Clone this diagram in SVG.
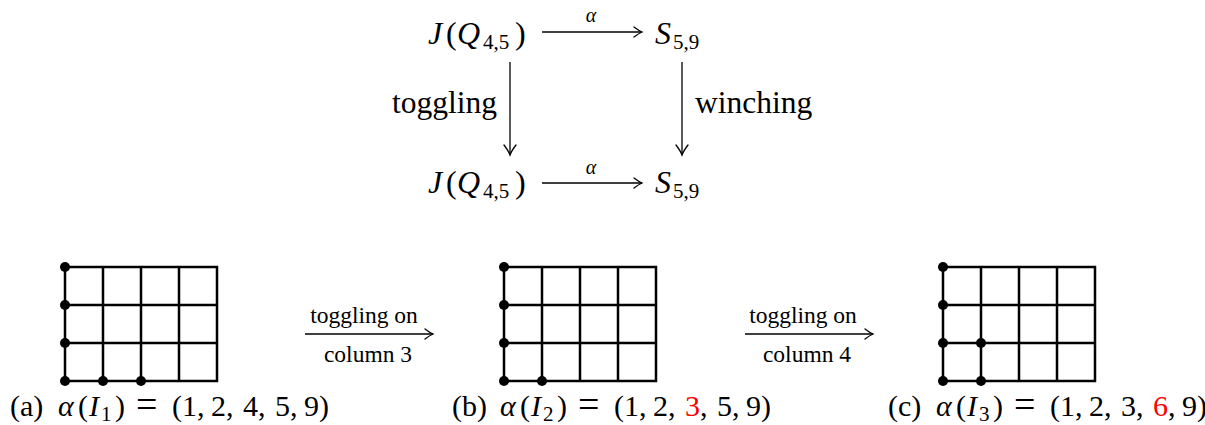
<svg xmlns="http://www.w3.org/2000/svg" width="1205" height="425" viewBox="0 0 1205 425">
<style>
text{font-family:"Liberation Serif","Times New Roman",serif;fill:#000}
.m{font-size:32px}
.it{font-style:italic}
.sub{font-size:21px}
.sm{font-size:20px;font-style:italic}
.lbl{font-size:31.5px}
.t{font-size:23.5px}
.cap{font-size:30px}
.capsub{font-size:21px}
.red{fill:#ff0000}
.conn line{stroke:#000;stroke-width:1.3;fill:none}
.gr{stroke:#000;stroke-width:2.5;fill:none;stroke-linecap:square}
.dot{fill:#000}
</style>
<defs>
<marker id="hk" markerUnits="userSpaceOnUse" viewBox="-10 -7 12 14" refX="0" refY="0" markerWidth="12" markerHeight="14" orient="auto" overflow="visible">
<path d="M-8,-5 Q-3,-1.2 0,0 Q-3,1.2 -8,5" fill="none" stroke="#000" stroke-width="1.3" stroke-linecap="round"/>
</marker>
<marker id="hkL" markerUnits="userSpaceOnUse" viewBox="-12 -8 14 16" refX="0" refY="0" markerWidth="14" markerHeight="16" orient="auto" overflow="visible">
<path d="M-10,-6 Q-4,-1.4 0,0 Q-4,1.4 -10,6" fill="none" stroke="#000" stroke-width="1.3" stroke-linecap="round"/>
</marker>
<path id="gridShape" d="M0,0H152V114H0Z M38,0V114 M76,0V114 M114,0V114 M0,38H152 M0,76H152"/>
</defs>

<g id="connectors" class="conn">
<line x1="542" y1="32" x2="642" y2="32" marker-end="url(#hk)"/>
<line x1="542" y1="183" x2="642" y2="183" marker-end="url(#hk)"/>
<line x1="510" y1="62" x2="510" y2="155" marker-end="url(#hkL)"/>
<line x1="682" y1="62" x2="682" y2="155" marker-end="url(#hkL)"/>
<line x1="305" y1="334" x2="433" y2="334" marker-end="url(#hk)"/>
<line x1="745" y1="334" x2="873" y2="334" marker-end="url(#hk)"/>
</g>

<g id="edge-labels">
<text class="sm" x="591" y="22" text-anchor="middle">α</text>
<text class="sm" x="591" y="174" text-anchor="middle">α</text>
<text class="lbl" x="392" y="113">toggling</text>
<text class="lbl" x="695" y="113">winching</text>
<text class="t" x="364" y="323" text-anchor="middle">toggling on</text>
<text class="t" x="368" y="362" text-anchor="middle">column 3</text>
<text class="t" x="803" y="323" text-anchor="middle">toggling on</text>
<text class="t" x="807" y="362" text-anchor="middle">column 4</text>
</g>

<g id="node-J-top">
<text class="m" y="44"><tspan x="428" class="it">J</tspan><tspan x="446">(</tspan><tspan x="457" class="it">Q</tspan><tspan x="483" dy="5" class="sub">4,5</tspan><tspan x="515" dy="-5">)</tspan></text>
</g>
<g id="node-S-top">
<text class="m" y="44"><tspan x="655" class="it">S</tspan><tspan x="673" dy="5" class="sub">5,9</tspan></text>
</g>
<g id="node-J-bottom">
<text class="m" y="193"><tspan x="428" class="it">J</tspan><tspan x="446">(</tspan><tspan x="457" class="it">Q</tspan><tspan x="483" dy="5" class="sub">4,5</tspan><tspan x="515" dy="-5">)</tspan></text>
</g>
<g id="node-S-bottom">
<text class="m" y="193"><tspan x="655" class="it">S</tspan><tspan x="673" dy="5" class="sub">5,9</tspan></text>
</g>

<g id="fig-a">
<use class="gr" href="#gridShape" x="65" y="267"/>
<circle class="dot" cx="65" cy="267" r="5"/>
<circle class="dot" cx="65" cy="305" r="5"/>
<circle class="dot" cx="65" cy="343" r="5"/>
<circle class="dot" cx="65" cy="381" r="5"/>
<circle class="dot" cx="103" cy="381" r="5"/>
<circle class="dot" cx="141" cy="381" r="5"/>
<text class="cap" y="416"><tspan x="10">(a)</tspan><tspan x="58" class="it">α</tspan><tspan x="78">(</tspan><tspan x="89" class="it">I</tspan><tspan x="101" dy="5" class="capsub">1</tspan><tspan x="115" dy="-5">)</tspan><tspan x="136" font-size="38" dy="1">=</tspan><tspan x="172" dy="-1">(1,</tspan><tspan x="211">2,</tspan><tspan x="243">4,</tspan><tspan x="275">5,</tspan><tspan x="304">9)</tspan></text>
</g>

<g id="fig-b">
<use class="gr" href="#gridShape" x="504" y="267"/>
<circle class="dot" cx="504" cy="267" r="5"/>
<circle class="dot" cx="504" cy="305" r="5"/>
<circle class="dot" cx="504" cy="343" r="5"/>
<circle class="dot" cx="504" cy="381" r="5"/>
<circle class="dot" cx="542" cy="381" r="5"/>
<text class="cap" y="416"><tspan x="452">(b)</tspan><tspan x="500" class="it">α</tspan><tspan x="520">(</tspan><tspan x="531" class="it">I</tspan><tspan x="543" dy="5" class="capsub">2</tspan><tspan x="557" dy="-5">)</tspan><tspan x="578" font-size="38" dy="1">=</tspan><tspan x="614" dy="-1">(1,</tspan><tspan x="653">2,</tspan><tspan x="685" class="red">3</tspan><tspan x="700">,</tspan><tspan x="717">5,</tspan><tspan x="746">9)</tspan></text>
</g>

<g id="fig-c">
<use class="gr" href="#gridShape" x="943" y="267"/>
<circle class="dot" cx="943" cy="267" r="5"/>
<circle class="dot" cx="943" cy="305" r="5"/>
<circle class="dot" cx="943" cy="343" r="5"/>
<circle class="dot" cx="943" cy="381" r="5"/>
<circle class="dot" cx="981" cy="343" r="5"/>
<circle class="dot" cx="981" cy="381" r="5"/>
<text class="cap" y="416"><tspan x="888">(c)</tspan><tspan x="936" class="it">α</tspan><tspan x="956">(</tspan><tspan x="967" class="it">I</tspan><tspan x="979" dy="5" class="capsub">3</tspan><tspan x="993" dy="-5">)</tspan><tspan x="1014" font-size="38" dy="1">=</tspan><tspan x="1050" dy="-1">(1,</tspan><tspan x="1089">2,</tspan><tspan x="1121">3,</tspan><tspan x="1153" class="red">6</tspan><tspan x="1168">,</tspan><tspan x="1182">9)</tspan></text>
</g>
</svg>
